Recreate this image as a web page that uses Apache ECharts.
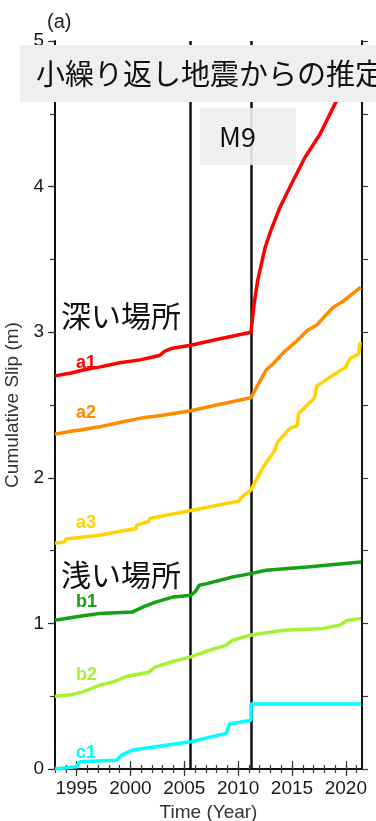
<!DOCTYPE html>
<html>
<head>
<meta charset="utf-8">
<style>
  html, body { margin: 0; padding: 0; background: #ffffff; }
  #chart { width: 376px; height: 821px; }
</style>
<script src="https://cdn.jsdelivr.net/npm/echarts@6/dist/echarts.min.js"></script>
</head>
<body>
<div id="chart"></div>
<script>
// Time range (decimal years) and axis ticks
const xMin = 1993, xMax = 2021.5;
const yearTicks = [1993,1994,1995,1996,1997,1998,1999,2000,2001,2002,2003,2004,2005,2006,2007,2008,2009,2010,2011,2012,2013,2014,2015,2016,2017,2018,2019,2020,2021];
const labelYears = [1995, 2000, 2005, 2010, 2015, 2020];
const slipLabels = [0, 1, 2, 3, 4, 5];
// Earthquake times drawn as vertical lines (2005 Miyagi-oki, 2011 Tohoku M9)
const eventYears = [2005.6, 2011.19];

// Cumulative slip (m) vs. time for each repeating-earthquake group
const a1 = [[1993.0,2.70],[1994.5,2.72],[1995.6,2.74],[1997.1,2.76],[1999.0,2.79],[2000.9,2.81],[2002.7,2.84],[2003.2,2.87],[2003.9,2.89],[2005.6,2.91],[2008.0,2.95],[2011.19,3.00],
  [2011.5,3.20],[2011.8,3.35],[2012.5,3.58],[2013.0,3.69],[2013.9,3.86],[2015.1,4.04],[2016.2,4.20],[2017.6,4.36],[2019.0,4.57],[2020.3,4.72],[2021.4,4.85]];
const a2 = [[1993.0,2.30],[1994.5,2.32],[1995.5,2.33],[1997.1,2.35],[1999.0,2.38],[2001.0,2.41],[2003.0,2.43],[2005.6,2.46],[2008.0,2.50],[2011.19,2.55],
  [2012.0,2.66],[2012.6,2.74],[2013.2,2.78],[2014.2,2.86],[2015.3,2.93],[2016.4,3.01],[2017.3,3.05],[2018.8,3.17],[2019.7,3.21],[2021.4,3.31]];
const a3 = [[1993.0,1.55],[1993.9,1.56],[1994.0,1.58],[1997.1,1.605],[1999.6,1.64],[2000.5,1.65],[2000.6,1.675],[2001.7,1.70],[2001.8,1.72],[2005.6,1.776],[2008.0,1.81],[2010.1,1.84],[2010.2,1.86],[2011.16,1.914],
  [2012.3,2.07],[2013.5,2.20],[2013.6,2.24],[2014.8,2.34],[2015.5,2.36],[2015.6,2.44],[2017.1,2.55],[2017.3,2.63],[2018.5,2.69],[2020.0,2.76],[2020.1,2.78],[2020.4,2.82],[2021.2,2.85],[2021.33,2.93]];
const b1 = [[1993.0,1.022],[1995.0,1.045],[1997.1,1.068],[2000.2,1.079],[2001.2,1.113],[2002.4,1.148],[2004.0,1.182],[2005.6,1.193],[2006.0,1.216],[2006.4,1.262],[2007.1,1.273],[2009.5,1.319],[2011.16,1.342],
  [2012.6,1.365],[2016.4,1.388],[2021.4,1.422]];
const b2 = [[1993.0,0.50],[1994.5,0.51],[1995.6,0.53],[1997.1,0.575],[1998.5,0.60],[1999.6,0.635],[2001.7,0.665],[2002.3,0.70],[2004.0,0.74],[2005.6,0.77],[2007.5,0.82],[2008.9,0.85],[2009.5,0.885],[2011.2,0.92],
  [2014.2,0.953],[2017.9,0.965],[2019.5,0.99],[2020.1,1.02],[2021.4,1.034]];
const c1 = [[1993.0,0.0],[1995.0,0.016],[1995.3,0.05],[1998.7,0.06],[1999.2,0.096],[2000.2,0.13],[2003.0,0.16],[2005.6,0.187],[2008.9,0.245],[2009.2,0.31],[2010.0,0.32],[2011.18,0.335],
  [2011.2,0.446],[2021.4,0.446]];

const seriesNames = ['a1', 'a2', 'a3', 'b1', 'b2', 'c1'];
const seriesData = [a1, a2, a3, b1, b2, c1];
const seriesColors = ['#ff0000', '#ff8a00', '#ffd200', '#14a014', '#a6f232', '#00ffff'];

const latin = '"Liberation Sans", Arial, sans-serif';
const cjk = '"Noto Sans CJK JP", sans-serif';
// Fixed plot rectangle; labels are allowed to sit outside it
const gridBox = { left: 55, right: 14, top: 41, bottom: 52, outerBoundsMode: 'none', containLabel: false };
const tickStyle = { color: '#333', width: 1.2 };

const chart = echarts.init(document.getElementById('chart'), null, { renderer: 'canvas' });

const lineSeries = seriesNames.map((name, i) => ({
  name: name,
  type: 'line',
  xAxisIndex: 0,
  yAxisIndex: 0,
  data: seriesData[i],
  showSymbol: false,
  symbol: 'none',
  lineStyle: { color: seriesColors[i], width: 3.5 },
  z: 5
}));

// Vertical event lines
lineSeries.push({
  type: 'line',
  xAxisIndex: 0,
  yAxisIndex: 0,
  data: [],
  markLine: {
    silent: true,
    symbol: 'none',
    label: { show: false },
    lineStyle: { color: '#111', width: 2.5, type: 'solid' },
    data: eventYears.map(v => ({ xAxis: v }))
  },
  z: 4
});

// Series name tags placed just right of the left edge
const tagPos = [[76, 363], [76, 413], [76, 523], [76, 602], [76, 675], [76, 753]];
const tags = seriesNames.map((name, i) => ({
  type: 'text',
  x: tagPos[i][0],
  y: tagPos[i][1],
  z: 50,
  style: {
    text: name,
    fill: seriesColors[i],
    font: 'bold 18px ' + latin,
    verticalAlign: 'middle'
  }
}));

const yearFmt = v => String(Math.round(v));

const option = {
  backgroundColor: '#ffffff',
  animation: false,
  grid: [
    Object.assign({}, gridBox),
    Object.assign({}, gridBox)
  ],
  xAxis: [
    {
      type: 'value', gridIndex: 0, position: 'bottom', min: xMin, max: xMax,
      axisLine: { show: true, lineStyle: { color: '#111', width: 2 } },
      axisTick: { show: true, customValues: yearTicks, length: 4, inside: false, lineStyle: tickStyle },
      axisLabel: { show: true, customValues: labelYears, formatter: yearFmt, fontSize: 19, fontFamily: latin, color: '#1a1a1a', margin: 10 },
      splitLine: { show: false },
      name: 'Time (Year)', nameLocation: 'middle', nameGap: 34,
      nameTextStyle: { fontSize: 19, fontFamily: latin, color: '#333' }
    },
    {
      type: 'value', gridIndex: 0, position: 'top', min: xMin, max: xMax,
      axisLine: { show: true, lineStyle: { color: '#111', width: 2 } },
      axisTick: { show: true, customValues: yearTicks, length: 4, inside: false, lineStyle: tickStyle },
      axisLabel: { show: false },
      splitLine: { show: false }
    },
    {
      type: 'value', gridIndex: 1, position: 'top', min: xMin, max: xMax,
      axisLine: { show: false },
      axisTick: { show: true, customValues: labelYears, length: 8, inside: false, lineStyle: tickStyle },
      axisLabel: { show: false },
      splitLine: { show: false }
    },
    {
      type: 'value', gridIndex: 1, position: 'bottom', min: xMin, max: xMax,
      axisLine: { show: false },
      axisTick: { show: true, customValues: labelYears, length: 7, inside: false, lineStyle: tickStyle },
      axisLabel: { show: false },
      splitLine: { show: false }
    }
  ],
  yAxis: [
    {
      type: 'value', gridIndex: 0, position: 'left', min: 0, max: 5, interval: 0.5,
      axisLine: { show: true, lineStyle: { color: '#111', width: 2 } },
      axisTick: { show: true, length: 5, inside: false, lineStyle: tickStyle },
      axisLabel: { show: true, customValues: slipLabels, fontSize: 19, fontFamily: latin, color: '#1a1a1a', margin: 11 },
      splitLine: { show: false },
      name: 'Cumulative Slip (m)', nameLocation: 'middle', nameGap: 27, nameRotate: 90,
      nameTextStyle: { fontSize: 19, fontFamily: latin, color: '#333' }
    },
    {
      type: 'value', gridIndex: 0, position: 'right', min: 0, max: 5, interval: 0.5,
      axisLine: { show: true, lineStyle: { color: '#111', width: 2 } },
      axisTick: { show: true, length: 6, inside: false, lineStyle: tickStyle },
      axisLabel: { show: false },
      splitLine: { show: false }
    },
    {
      type: 'value', gridIndex: 1, position: 'left', min: 0, max: 5, interval: 1,
      axisLine: { show: false },
      axisTick: { show: true, length: 7, inside: false, lineStyle: tickStyle },
      axisLabel: { show: false },
      splitLine: { show: false }
    }
  ],
  series: lineSeries,
  graphic: [
    { type: 'text', x: 47, y: 22, z: 50,
      style: { text: '(a)', fill: '#222', font: '20px ' + latin, verticalAlign: 'middle' } },
    { type: 'rect', z: 100, shape: { x: 20, y: 45, width: 360, height: 57 },
      style: { fill: '#efefef' } },
    { type: 'text', x: 36, y: 74, z: 101,
      style: { text: '小繰り返し地震からの推定', fill: '#111', font: '29px ' + cjk, verticalAlign: 'middle' } },
    { type: 'rect', z: 100, shape: { x: 200, y: 108, width: 96, height: 57 },
      style: { fill: 'rgba(238,238,238,0.9)' } },
    { type: 'text', x: 219, y: 137, z: 101,
      style: { text: 'M9', fill: '#111', font: '27px ' + cjk, verticalAlign: 'middle' } },
    { type: 'text', x: 61, y: 316, z: 60,
      style: { text: '深い場所', fill: '#111', font: '30px ' + cjk, verticalAlign: 'middle' } },
    { type: 'text', x: 61, y: 575, z: 60,
      style: { text: '浅い場所', fill: '#111', font: '30px ' + cjk, verticalAlign: 'middle' } }
  ].concat(tags)
};

chart.setOption(option);
</script>
</body>
</html>
